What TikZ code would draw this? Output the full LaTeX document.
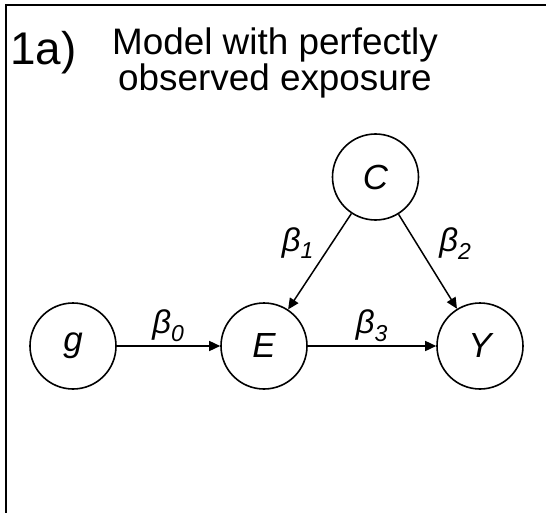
\documentclass[tikz,border=0pt]{standalone}
\usepackage{fontspec}
\setmainfont{Liberation Sans}
\usetikzlibrary{arrows.meta}
\begin{document}
\begin{tikzpicture}[x=1bp,y=1bp,
  var/.style={circle, draw, line width=1.6bp, minimum size=86bp, inner sep=0pt,
    font=\fontsize{35}{35}\selectfont\itshape},
  link/.style={line width=1.5bp, -{Triangle[length=11bp,width=10bp]}},
  coef/.style={font=\fontsize{33}{33}\selectfont\itshape, inner sep=0pt},
  frameline/.style={line width=2bp}]
\useasboundingbox (0,0) rectangle (546,-513);
\draw[frameline] (6,-513) -- (6,-5) -- (546,-5);
\node[anchor=base west, inner sep=0pt, font=\fontsize{46}{46}\selectfont] (lab) at (10,-65) {1a)};
\node[anchor=north, align=center, inner sep=0pt, font=\fontsize{37}{33}\selectfont] (title) at (275,-28)
  {Model with perfectly\\observed exposure};
\node[var] (g) at (73,-346) {g};
\node[var] (E) at (264,-346) {E};
\node[var] (Y) at (480,-346) {Y};
\node[var] (C) at (375.5,-177) {C};
\draw[link] (g) -- node[coef, above=4bp] (b0) {β\textsubscript{0}} (E);
\draw[link] (E) -- node[coef, above=4bp] (b3) {β\textsubscript{3}} (Y);
\draw[link] (C) -- node[coef, pos=0.31, anchor=east, xshift=-17bp] (b1) {β\textsubscript{1}} (E);
\draw[link] (C) -- node[coef, pos=0.31, anchor=west, xshift=22bp] (b2) {β\textsubscript{2}} (Y);
\end{tikzpicture}
\end{document}
